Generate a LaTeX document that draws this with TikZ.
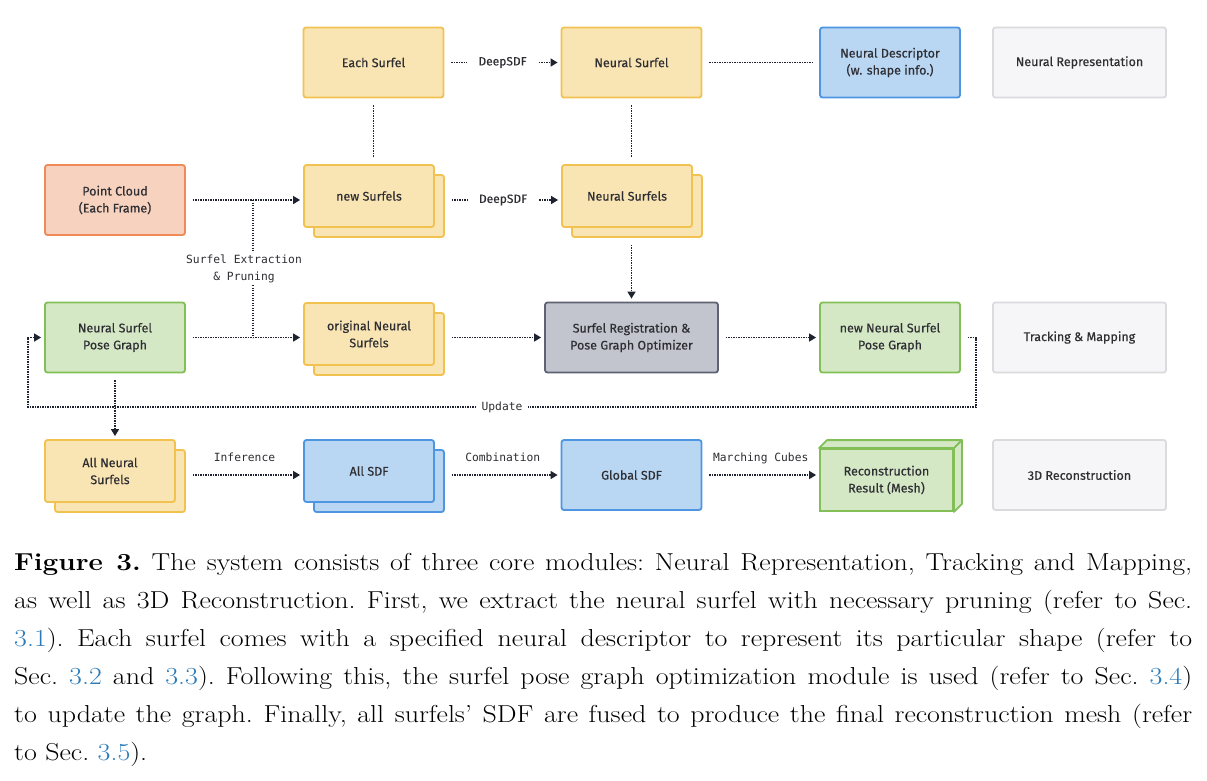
\documentclass[tikz,border=0pt]{standalone}
\usepackage{fontspec}
\newfontfamily\boxfont{Fira Sans}[FakeBold=0.35]
\newfontfamily\labfont{DejaVu Sans Mono}
\newfontfamily\capfont{Latin Modern Roman}[FakeStretch=1.14]
\usetikzlibrary{arrows.meta}
\definecolor{ylwF}{HTML}{F9E5B4}
\definecolor{ylwD}{HTML}{F1C250}
\definecolor{orgF}{HTML}{F7D3BF}
\definecolor{orgD}{HTML}{EE8B58}
\definecolor{bluF}{HTML}{B9D6F3}
\definecolor{bluD}{HTML}{4E95E2}
\definecolor{grnF}{HTML}{D5E8C6}
\definecolor{grnD}{HTML}{82C057}
\definecolor{gryF}{HTML}{F6F6F8}
\definecolor{gryD}{HTML}{DADADF}
\definecolor{regF}{HTML}{C2C5CD}
\definecolor{regD}{HTML}{5E6272}
\definecolor{txt}{HTML}{2E2E33}
\definecolor{lnc}{HTML}{1F2330}
\definecolor{lnkc}{HTML}{2B7BB9}
\newcommand\lnk[1]{\textcolor{lnkc}{#1}}
\begin{document}
\begin{tikzpicture}[x=1pt,y=-1pt,
  base/.style={draw, line width=1.8pt, rounded corners=2.5pt, align=center,
    font=\boxfont\fontsize{12.5}{17}\selectfont, text=txt, inner sep=0pt},
  ybox/.style={base, fill=ylwF, draw=ylwD},
  obox/.style={base, fill=orgF, draw=orgD},
  bbox/.style={base, fill=bluF, draw=bluD},
  gnbox/.style={base, fill=grnF, draw=grnD},
  gybox/.style={base, fill=gryF, draw=gryD},
  rgbox/.style={base, fill=regF, draw=regD},
  big/.style={minimum width=140pt, minimum height=70pt},
  wide/.style={minimum width=173pt, minimum height=70pt},
  stk/.style={minimum width=130pt, minimum height=62pt},
  conn/.style={draw=lnc, line width=1.4pt, dash pattern=on 1.3pt off 1.2pt, shorten <=7pt},
  arr/.style={conn, shorten >=3pt, -{Triangle[length=7pt,width=8pt]}},
  lab/.style={fill=white, font=\boxfont\fontsize{12}{14}\selectfont, text=txt, inner xsep=11pt, inner ysep=3pt},
  mlab/.style={fill=white, font=\labfont\fontsize{11.3}{17}\selectfont, text=txt, align=center, inner sep=2pt},
  tlab/.style={mlab, text height=8.5pt, text depth=2.5pt, above=8pt},
  captxt/.style={anchor=base west, inner sep=0pt, font=\capfont\frenchspacing\fontsize{24.5}{28}\selectfont, text=black}
]
\useasboundingbox[fill=white] (0,0) rectangle (1207,780);

% row 1
\node[ybox, big] (each) at (373.5,62.5) {Each Surfel};
\node[ybox, big] (nsurf) at (631.5,62.5) {Neural Surfel};
\node[bbox, big] (ndesc) at (890,62.5) {Neural Descriptor\\(w. shape info.)};
\node[gybox, wide] (mrep) at (1079.5,62.5) {Neural Representation};

% row 2
\node[obox, big] (pc) at (115,200) {Point Cloud\\(Each Frame)};
\node[ybox, stk] (nsB) at (379,206) {};
\node[ybox, stk] (nsF) at (369,196) {new Surfels};
\node[ybox, stk] (nrsB) at (637,206) {};
\node[ybox, stk] (nrsF) at (627,196) {Neural Surfels};

% row 3
\node[gnbox, big] (nspg) at (115,337.5) {Neural Surfel\\Pose Graph};
\node[ybox, stk] (origB) at (379,344) {};
\node[ybox, stk] (origF) at (369,334) {original Neural\\Surfels};
\node[rgbox, wide] (reg) at (631.5,337.5) {Surfel Registration \&\\Pose Graph Optimizer};
\node[gnbox, big] (newnspg) at (890,337.5) {new Neural Surfel\\Pose Graph};
\node[gybox, wide] (mtrk) at (1079.5,337.5) {Tracking \& Mapping};

% row 4
\node[ybox, stk] (allB) at (120,481) {};
\node[ybox, stk] (allF) at (110,471) {All Neural\\Surfels};
\node[bbox, stk] (sdfB) at (379,481) {};
\node[bbox, stk] (sdfF) at (369,471) {All SDF};
\node[bbox, big] (gsdf) at (631.5,475) {Global SDF};
\node[gnbox, rounded corners=0pt, minimum width=133pt, minimum height=62pt] (cube) at (886.5,480) {Reconstruction\\Result (Mesh)};
\draw[line width=1.8pt, draw=grnD, fill=grnF, line join=round]
  (cube.north west) -- ++(8,-8) -- ([shift={(8,-8)}]cube.north east) -- (cube.north east) -- cycle;
\draw[line width=1.8pt, draw=grnD, fill=grnF, line join=round]
  (cube.north east) -- ++(8,-8) -- ([shift={(8,-8)}]cube.south east) -- (cube.south east) -- cycle;
\node[gybox, wide] (mrec) at (1079.5,475) {3D Reconstruction};

% connectors row 1
\draw[arr] (each) -- node[lab]{DeepSDF} (nsurf);
\draw[conn, shorten >=7pt] (nsurf) -- (ndesc);
\draw[conn, shorten >=7pt] (each.south) -- (each.south |- nsF.north);
\draw[conn, shorten >=7pt] (nsurf.south) -- (nsurf.south |- nrsF.north);

% row 2
\coordinate (jn1) at (253,200);
\coordinate (jn2) at (253,337.5);
\draw[arr] (pc.east) -- (pc.east -| nsF.west);
\draw[arr] (nsB.east |- jn1) -- node[lab]{DeepSDF} (jn1 -| nrsF.west);
\draw[conn, shorten <=0pt] (jn1) -- (jn2);
\node[mlab] (sep) at (244,269) {Surfel Extraction\\\& Pruning};
\draw[arr] (reg.north |- nrsB.south) -- (reg.north);

% row 3
\draw[arr] (nspg.east) -- (nspg.east -| origF.west);
\draw[arr] (origB.east |- nspg.east) -- (reg.west);
\draw[arr] (reg) -- (newnspg);
\coordinate (uR) at (976,407);
\coordinate (uL) at (28,407);
\draw[arr] (newnspg.east) -| (uR) -- node[mlab, inner xsep=6pt]{Update} (uL) |- (nspg.west);
\draw[arr] (nspg.south) -- (nspg.south |- allF.north);

% row 4
\draw[arr] (allB.east |- gsdf.west) -- node[tlab]{Inference} (gsdf.west -| sdfF.west);
\draw[arr] (sdfB.east |- gsdf.west) -- node[tlab]{Combination} (gsdf.west);
\draw[arr] (gsdf.east) -- node[tlab]{Marching Cubes} (gsdf.east -| cube.west);

% caption
\node[captxt] (c1) at (14,570) {\makebox[1178pt][s]{\textbf{Figure 3.} The system consists of three core modules: Neural Representation, Tracking and Mapping,}};
\node[captxt] (c2) at (14,608) {\makebox[1178pt][s]{as well as 3D Reconstruction. First, we extract the neural surfel with necessary pruning (refer to Sec.}};
\node[captxt] (c3) at (14,646) {\makebox[1178pt][s]{\lnk{3.1}). Each surfel comes with a specified neural descriptor to represent its particular shape (refer to}};
\node[captxt] (c4) at (14,684) {\makebox[1178pt][s]{Sec. \lnk{3.2} and \lnk{3.3}). Following this, the surfel pose graph optimization module is used (refer to Sec. \lnk{3.4})}};
\node[captxt] (c5) at (14,722) {\makebox[1178pt][s]{to update the graph. Finally, all surfels’ SDF are fused to produce the final reconstruction mesh (refer}};
\node[captxt] (c6) at (14,760) {to Sec. \lnk{3.5}).};
\end{tikzpicture}
\end{document}
